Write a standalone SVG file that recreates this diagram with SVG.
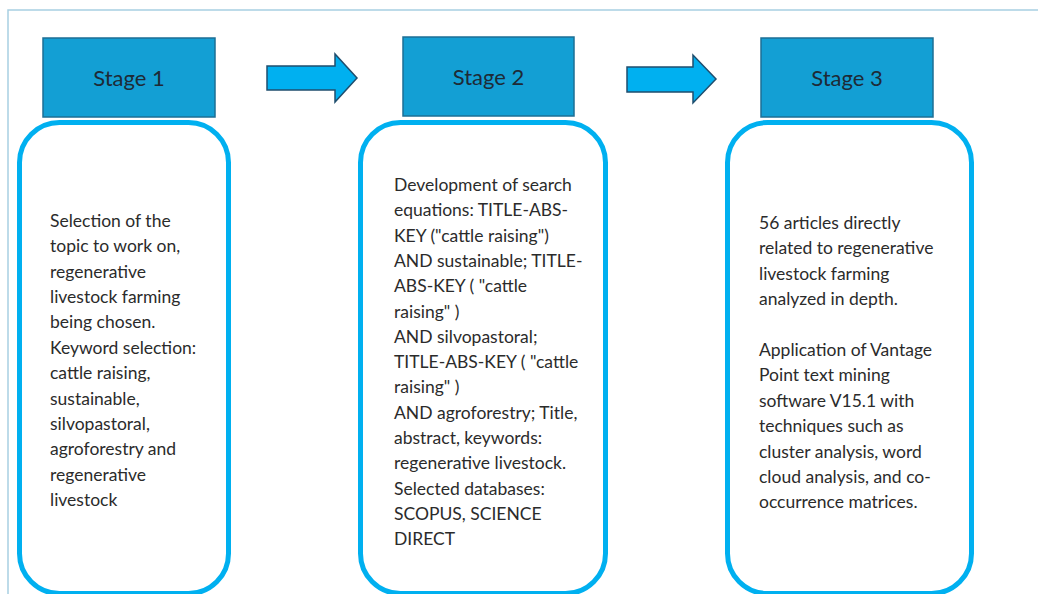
<svg xmlns="http://www.w3.org/2000/svg" width="1038" height="594" viewBox="0 0 1038 594">
<style>
.frame{fill:none;stroke:#a8cfe2;stroke-width:1.5}
.hdr{fill:#139fd4;stroke:#1d6f95;stroke-width:1.5}
.hdrt{font-family:Lato,"Liberation Sans",sans-serif;font-size:22px;fill:#1e2a36;text-anchor:middle}
.card{fill:#fff;stroke:#00b0f0;stroke-width:5}
.body{font-family:Lato,"Liberation Sans",sans-serif;font-size:17.5px;fill:#2b2b2b}
.arrow{fill:#00b0f0;stroke:#1f4e6e;stroke-width:1.5;stroke-linejoin:miter}
</style>
<rect width="1038" height="594" fill="#fff"/>
<path class="frame" d="M8,594 V10 H1038"/>
<g id="connectors">
<polygon class="arrow" points="267,66 335,66 335,54 357,78 335,102 335,90 267,90"/>
<polygon class="arrow" points="627,67 693,67 693,55 716,79 693,103 693,92 627,92"/>
</g>
<g id="stage1">
<rect class="hdr" x="43" y="38" width="172" height="79"/>
<text class="hdrt" x="129" y="86">Stage 1</text>
<rect class="card" x="19.5" y="122.5" width="209" height="471" rx="40"/>
<text class="body" x="50">
<tspan x="50" y="226.7">Selection of the</tspan>
<tspan x="50" y="252.1">topic to work on,</tspan>
<tspan x="50" y="277.5">regenerative</tspan>
<tspan x="50" y="302.9">livestock farming</tspan>
<tspan x="50" y="328.3">being chosen.</tspan>
<tspan x="50" y="353.7">Keyword selection:</tspan>
<tspan x="50" y="379.1">cattle raising,</tspan>
<tspan x="50" y="404.5">sustainable,</tspan>
<tspan x="50" y="429.9">silvopastoral,</tspan>
<tspan x="50" y="455.3">agroforestry and</tspan>
<tspan x="50" y="480.7">regenerative</tspan>
<tspan x="50" y="506.1">livestock</tspan>
</text>
</g>
<g id="stage2">
<rect class="hdr" x="403" y="37" width="171" height="79"/>
<text class="hdrt" x="488.5" y="85">Stage 2</text>
<rect class="card" x="360.5" y="122.5" width="245" height="471" rx="40"/>
<text class="body">
<tspan x="394" y="191">Development of search</tspan>
<tspan x="394" y="216.3">equations: TITLE-ABS-</tspan>
<tspan x="394" y="241.6">KEY ("cattle raising")</tspan>
<tspan x="394" y="266.9">AND sustainable; TITLE-</tspan>
<tspan x="394" y="292.2">ABS-KEY ( "cattle</tspan>
<tspan x="394" y="317.5">raising" )</tspan>
<tspan x="394" y="342.8">AND silvopastoral;</tspan>
<tspan x="394" y="368.1">TITLE-ABS-KEY ( "cattle</tspan>
<tspan x="394" y="393.4">raising" )</tspan>
<tspan x="394" y="418.7">AND agroforestry; Title,</tspan>
<tspan x="394" y="444">abstract, keywords:</tspan>
<tspan x="394" y="469.3">regenerative livestock.</tspan>
<tspan x="394" y="494.6">Selected databases:</tspan>
<tspan x="394" y="519.9">SCOPUS, SCIENCE</tspan>
<tspan x="394" y="545.2">DIRECT</tspan>
</text>
</g>
<g id="stage3">
<rect class="hdr" x="761" y="38" width="172" height="79"/>
<text class="hdrt" x="847" y="86">Stage 3</text>
<rect class="card" x="727.5" y="122.5" width="244" height="471" rx="40"/>
<text class="body">
<tspan x="759" y="229">56 articles directly</tspan>
<tspan x="759" y="254.4">related to regenerative</tspan>
<tspan x="759" y="279.8">livestock farming</tspan>
<tspan x="759" y="305.2">analyzed in depth.</tspan>
<tspan x="759" y="356">Application of Vantage</tspan>
<tspan x="759" y="381.4">Point text mining</tspan>
<tspan x="759" y="406.8">software V15.1 with</tspan>
<tspan x="759" y="432.2">techniques such as</tspan>
<tspan x="759" y="457.6">cluster analysis, word</tspan>
<tspan x="759" y="483">cloud analysis, and co-</tspan>
<tspan x="759" y="508.4">occurrence matrices.</tspan>
</text>
</g>
</svg>
